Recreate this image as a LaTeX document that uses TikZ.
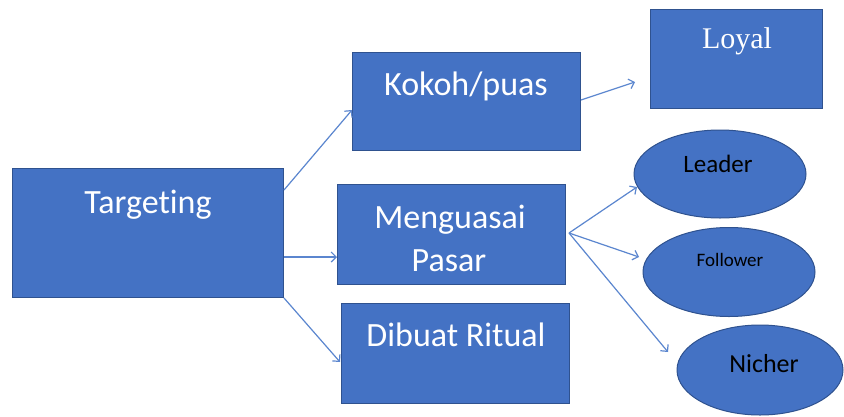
\documentclass[tikz,border=0pt]{standalone}
\usepackage{fontspec}
\setmainfont{Carlito}[Ligatures=NoCommon]
\newfontfamily\timesf{Liberation Serif}
\usetikzlibrary{arrows.meta,shapes.geometric,calc}
\definecolor{boxfill}{HTML}{4472C4}
\definecolor{boxline}{HTML}{2F528F}
\definecolor{arrcol}{HTML}{5B86CF}
\begin{document}
\begin{tikzpicture}[x=1pt,y=-1pt,
  boxs/.style={draw=boxline,fill=boxfill,line width=1pt,rectangle,inner sep=0pt,anchor=north west},
  ells/.style={draw=boxline,fill=boxfill,line width=1pt,ellipse,inner sep=0pt},
  wtxt/.style={text=white,anchor=base,inner sep=0pt,font=\fontsize{34}{41}\selectfont},
  btxt/.style={text=black,anchor=base,inner sep=0pt},
  arr/.style={draw=arrcol,line width=1.2pt,-{Straight Barb[length=5pt,width=10pt,line width=1.2pt]}}]
\useasboundingbox (0,0) rectangle (844,416);
\fill[white] (0,0) rectangle (844,416);
% boxes
\node[boxs,minimum width=271pt,minimum height=129pt] (tgt) at (12,168) {};
\node[boxs,minimum width=228pt,minimum height=98pt] (kok) at (352,52) {};
\node[boxs,minimum width=172pt,minimum height=99pt] (loy) at (650,9) {};
\node[boxs,minimum width=228pt,minimum height=100pt] (men) at (337,184) {};
\node[boxs,minimum width=228pt,minimum height=100pt] (dib) at (341,303) {};
% ellipses
\node[ells,minimum width=172pt,minimum height=88pt] (lea) at (720,174) {};
\node[ells,minimum width=172pt,minimum height=89pt] (fol) at (729,272) {};
\node[ells,minimum width=166pt,minimum height=90pt] (nic) at (760,370) {};
% texts
\node[wtxt] (tgtt) at (148,213) {Targeting};
\node[wtxt] (kokt) at (466,95) {Kokoh/puas};
\node[wtxt,font=\timesf\fontsize{30}{36}\selectfont] (loyt) at (737,48) {Loyal};
\node[wtxt] (ment1) at (450,228) {Menguasai};
\node[wtxt] (ment2) at (449,271) {Pasar};
\node[wtxt] (dibt) at (456,346) {Dibuat Ritual};
\node[btxt,font=\fontsize{25}{30}\selectfont] (leat) at (718,172) {Leader};
\node[btxt,font=\fontsize{19}{23}\selectfont] (folt) at (730,266) {Follower};
\node[btxt,font=\fontsize{26}{31}\selectfont] (nict) at (764,372) {Nicher};
% connectors
\draw[arr] ($(tgt.north east)+(0,22)$) -- ($(kok.north west)+(0,58)$);
\draw[arr] ($(tgt.north east)+(0,89)$) -- ($(men.north west)+(0,73)$);
\draw[arr] (tgt.south east) -- ($(dib.north west)+(-1,59)$);
\draw[arr] ($(kok.north east)+(0,48)$) -- ($(loy.north west)+(-15,73)$);
\draw[arr] ($(men.north east)+(3,49)$) -- ($(lea.center)+(-83,13)$);
\draw[arr] ($(men.north east)+(3,49)$) -- ($(fol.center)+(-90,-15)$);
\draw[arr] ($(men.north east)+(3,49)$) -- ($(nic.center)+(-92,-18)$);
\end{tikzpicture}
\end{document}
